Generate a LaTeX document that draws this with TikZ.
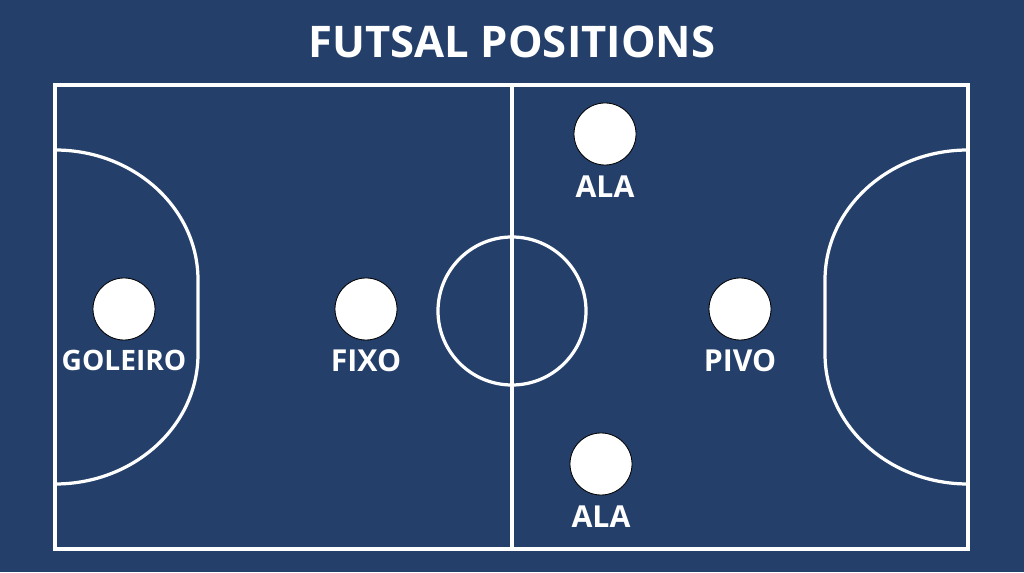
\documentclass[tikz,border=0pt]{standalone}
\usepackage{fontspec}
\setmainfont{Open Sans}
\usetikzlibrary{calc}
\usepackage{xcolor}
\definecolor{pitch}{HTML}{233F6A}

\tikzset{
	courtline/.style = {draw = white, line width = 2.3pt},
	player/.style = {circle, fill = white, draw = black, line width = 0.6pt,
		minimum size = 1.55cm, inner sep = 0pt},
	poslabel/.style = {text = white, font = \fontsize{21.5}{26}\selectfont\bfseries,
		inner sep = 0pt}
}

\begin{document}
\begin{tikzpicture} [x = 0.025cm, y = 0.025cm]
% background:
\fill [pitch] (0,0) rectangle (1024,572);
\node [text = white, font = \fontsize{31}{37}\selectfont\bfseries] (title)
	at (512,530) {FUTSAL POSITIONS};

% court:
\draw [courtline] (55,23) rectangle (968,487);
\draw [courtline] (512,23) -- (512,487);
\draw [courtline] (512,261) circle (74);

% penalty areas:
\draw [courtline] (55,422) arc (90:0:143 and 130) -- ++(0,-74)
	arc (0:-90:143 and 130);
\draw [courtline] (968,422) arc (90:180:143 and 130) -- ++(0,-74)
	arc (180:270:143 and 130);

% players:
\node [player] (goleiro) at (124,263) {};
\node [player] (fixo) at (366,263) {};
\node [player] (alaTop) at (605,438) {};
\node [player] (pivo) at (740,263) {};
\node [player] (alaBot) at (601,108) {};

\node [poslabel, font = \fontsize{20}{24}\selectfont\bfseries]
	at ($(goleiro)+(0,-51)$) {GOLEIRO};
\node [poslabel] at ($(fixo)+(0,-52)$) {FIXO};
\node [poslabel] at ($(alaTop)+(0,-53)$) {ALA};
\node [poslabel] at ($(pivo)+(0,-52)$) {PIVO};
\node [poslabel] at ($(alaBot)+(0,-53)$) {ALA};
\end{tikzpicture}
\end{document}
